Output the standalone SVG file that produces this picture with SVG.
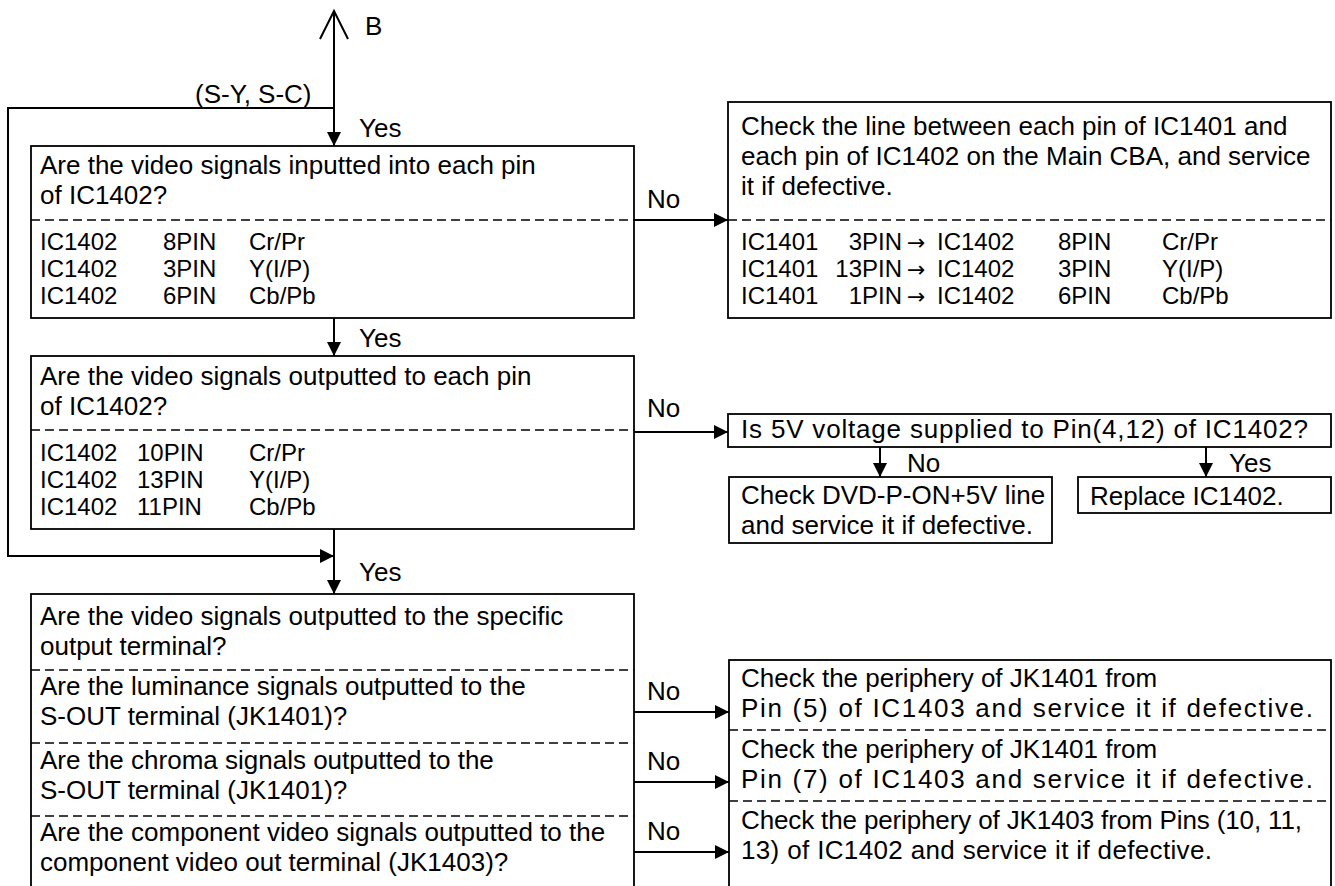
<svg xmlns="http://www.w3.org/2000/svg" width="1335" height="886" viewBox="0 0 1335 886">
<defs>
<style>
text{font-family:"Liberation Sans",Arial,Helvetica,sans-serif;font-size:26px;fill:#000}
.r{font-size:24px}
.ar{font-family:"DejaVu Sans",sans-serif;font-size:22px}
.box{fill:#fff;stroke:#000;stroke-width:1.8}
.dash{stroke:#000;stroke-width:1.4;stroke-dasharray:9 5;fill:none}
.ln{stroke:#000;stroke-width:2;fill:none}
.arr{marker-end:url(#ah)}
.e{text-anchor:end}
</style>
<marker id="ah" viewBox="0 0 14 14" refX="14" refY="7" markerWidth="14" markerHeight="14" markerUnits="userSpaceOnUse" orient="auto">
<path d="M0,0 L14,7 L0,14 z" fill="#000"/>
</marker>
</defs>
<rect width="1335" height="886" fill="#fff"/>

<g id="connectors">
<line class="ln" x1="334" y1="12" x2="334" y2="108"/>
<polyline class="ln" points="320,39 334,11 348,39"/>
<line class="ln arr" x1="334" y1="108" x2="334" y2="146"/>
<polyline class="ln arr" points="334,108 8,108 8,556 334,556"/>
<line class="ln arr" x1="334" y1="318" x2="334" y2="356"/>
<line class="ln arr" x1="334" y1="529" x2="334" y2="594"/>
<line class="ln arr" x1="634" y1="220" x2="728" y2="220"/>
<line class="ln arr" x1="634" y1="432" x2="728" y2="432"/>
<line class="ln arr" x1="880" y1="447" x2="880" y2="477"/>
<line class="ln arr" x1="1206" y1="447" x2="1206" y2="477"/>
<line class="ln arr" x1="634" y1="712" x2="729" y2="712"/>
<line class="ln arr" x1="634" y1="782" x2="729" y2="782"/>
<line class="ln arr" x1="634" y1="852" x2="729" y2="852"/>
<text x="365" y="35">B</text>
<text x="195" y="103">(S-Y, S-C)</text>
<text x="359" y="137">Yes</text>
<text x="359" y="347">Yes</text>
<text x="359" y="581">Yes</text>
<text x="647" y="208">No</text>
<text x="647" y="417">No</text>
<text x="907" y="472">No</text>
<text x="1229" y="472">Yes</text>
<text x="647" y="700">No</text>
<text x="647" y="770">No</text>
<text x="647" y="840">No</text>
</g>

<g id="q1">
<rect class="box" x="31" y="146" width="603" height="172"/>
<line class="dash" x1="31" y1="220" x2="634" y2="220"/>
<text x="40" y="174">Are the video signals inputted into each pin</text>
<text x="40" y="204">of IC1402?</text>
<text class="r" x="40" y="250">IC1402</text><text class="r" x="163" y="250">8PIN</text><text class="r" x="249" y="250">Cr/Pr</text>
<text class="r" x="40" y="277">IC1402</text><text class="r" x="163" y="277">3PIN</text><text class="r" x="249" y="277">Y(I/P)</text>
<text class="r" x="40" y="304">IC1402</text><text class="r" x="163" y="304">6PIN</text><text class="r" x="249" y="304">Cb/Pb</text>
</g>

<g id="a1">
<rect class="box" x="728" y="102" width="603" height="216"/>
<line class="dash" x1="728" y1="220" x2="1331" y2="220"/>
<text x="741" y="135">Check the line between each pin of IC1401 and</text>
<text x="741" y="165">each pin of IC1402 on the Main CBA, and service</text>
<text x="741" y="195">it if defective.</text>
<text class="r" x="741" y="250">IC1401</text><text class="r e" x="902" y="250">3PIN</text><text class="ar" x="907" y="250">→</text><text class="r" x="937" y="250">IC1402</text><text class="r" x="1058" y="250">8PIN</text><text class="r" x="1162" y="250">Cr/Pr</text>
<text class="r" x="741" y="277">IC1401</text><text class="r e" x="902" y="277">13PIN</text><text class="ar" x="907" y="277">→</text><text class="r" x="937" y="277">IC1402</text><text class="r" x="1058" y="277">3PIN</text><text class="r" x="1162" y="277">Y(I/P)</text>
<text class="r" x="741" y="304">IC1401</text><text class="r e" x="902" y="304">1PIN</text><text class="ar" x="907" y="304">→</text><text class="r" x="937" y="304">IC1402</text><text class="r" x="1058" y="304">6PIN</text><text class="r" x="1162" y="304">Cb/Pb</text>
</g>

<g id="q2">
<rect class="box" x="31" y="356" width="603" height="173"/>
<line class="dash" x1="31" y1="430" x2="634" y2="430"/>
<text x="40" y="385">Are the video signals outputted to each pin</text>
<text x="40" y="415">of IC1402?</text>
<text class="r" x="40" y="461">IC1402</text><text class="r" x="137" y="461">10PIN</text><text class="r" x="249" y="461">Cr/Pr</text>
<text class="r" x="40" y="488">IC1402</text><text class="r" x="137" y="488">13PIN</text><text class="r" x="249" y="488">Y(I/P)</text>
<text class="r" x="40" y="515">IC1402</text><text class="r" x="137" y="515">11PIN</text><text class="r" x="249" y="515">Cb/Pb</text>
</g>

<g id="q5v">
<rect class="box" x="728" y="414" width="603" height="33"/>
<text x="741" y="438" textLength="567" lengthAdjust="spacing">Is 5V voltage supplied to Pin(4,12) of IC1402?</text>
</g>

<g id="a5v-no">
<rect class="box" x="729" y="477" width="323" height="66"/>
<text x="741" y="504">Check DVD-P-ON+5V line</text>
<text x="741" y="534">and service it if defective.</text>
</g>

<g id="a5v-yes">
<rect class="box" x="1078" y="477" width="253" height="36"/>
<text x="1090" y="505">Replace IC1402.</text>
</g>

<g id="q3">
<rect class="box" x="31" y="594" width="603" height="296"/>
<line class="dash" x1="31" y1="670" x2="634" y2="670"/>
<line class="dash" x1="31" y1="743" x2="634" y2="743"/>
<line class="dash" x1="31" y1="816" x2="634" y2="816"/>
<text x="40" y="625">Are the video signals outputted to the specific</text>
<text x="40" y="655">output terminal?</text>
<text x="40" y="695">Are the luminance signals outputted to the</text>
<text x="40" y="725">S-OUT terminal (JK1401)?</text>
<text x="40" y="769">Are the chroma signals outputted to the</text>
<text x="40" y="799">S-OUT terminal (JK1401)?</text>
<text x="40" y="841">Are the component video signals outputted to the</text>
<text x="40" y="871">component video out terminal (JK1403)?</text>
</g>

<g id="a3">
<rect class="box" x="729" y="660" width="602" height="230"/>
<line class="dash" x1="729" y1="730" x2="1331" y2="730"/>
<line class="dash" x1="729" y1="801" x2="1331" y2="801"/>
<text x="741" y="687">Check the periphery of JK1401 from</text>
<text x="741" y="717" textLength="572" lengthAdjust="spacing">Pin (5) of IC1403 and service it if defective.</text>
<text x="741" y="758">Check the periphery of JK1401 from</text>
<text x="741" y="788" textLength="572" lengthAdjust="spacing">Pin (7) of IC1403 and service it if defective.</text>
<text x="741" y="829" textLength="561" lengthAdjust="spacing">Check the periphery of JK1403 from Pins (10, 11,</text>
<text x="741" y="859" textLength="471" lengthAdjust="spacing">13) of IC1402 and service it if defective.</text>
</g>
</svg>
